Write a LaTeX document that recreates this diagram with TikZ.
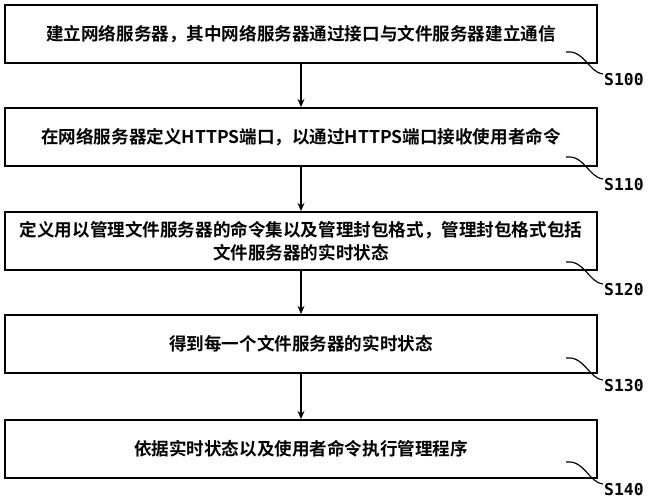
\documentclass[tikz,border=0pt]{standalone}
\usepackage{fontspec}
\newfontfamily\cjk{Noto Sans CJK SC}[BoldFont={* Bold}]
\newfontfamily\lab{DejaVu Sans Mono}
\usetikzlibrary{arrows.meta}
\begin{document}
\begin{tikzpicture}[x=0.03cm,y=-0.03cm,
  stepbox/.style={draw,line width=1.6pt,minimum width=592*0.03cm,minimum height=58*0.03cm,inner sep=0pt,align=center,font=\cjk\bfseries\fontsize{15}{20}\selectfont},
  conn/.style={line width=1.2pt,-{Stealth[length=7pt,width=6pt]}},
  lead/.style={line width=1pt},
  lbl/.style={font=\lab\bfseries\fontsize{14}{16}\selectfont,anchor=west,inner sep=0pt}]
\useasboundingbox (0,0) rectangle (663,500);
\node[stepbox] (b1) at (301,34) {建立网络服务器，其中网络服务器通过接口与文件服务器建立通信};
\node[stepbox] (b2) at (301,137) {在网络服务器定义HTTPS端口，以通过HTTPS端口接收使用者命令};
\node[stepbox] (b3) at (301,241) {定义用以管理文件服务器的命令集以及管理封包格式，管理封包格式包括\\文件服务器的实时状态};
\node[stepbox] (b4) at (301,344) {得到每一个文件服务器的实时状态};
\node[stepbox] (b5) at (301,449) {依据实时状态以及使用者命令执行管理程序};
\draw[conn] (b1) -- (b2);
\draw[conn] (b2) -- (b3);
\draw[conn] (b3) -- (b4);
\draw[conn] (b4) -- (b5);
\foreach \b/\t/\y in {b1/S100/80,b2/S110/185,b3/S120/290,b4/S130/386,b5/S140/490}{
  \coordinate (s\t) at (566,\y-28);
  \coordinate (e\t) at (603,\y-6);
  \draw[lead] (s\t) .. controls (585,\y-30) and (588,\y-8) .. (e\t);
  \node[lbl] (l\t) at (604,\y) {\t};
}
\end{tikzpicture}
\end{document}
